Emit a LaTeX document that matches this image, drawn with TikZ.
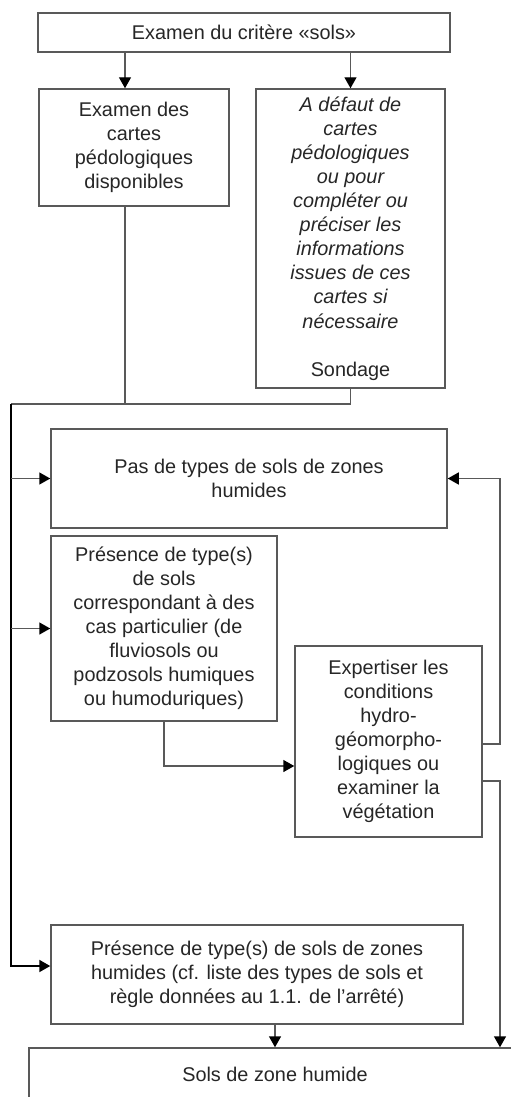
\documentclass[tikz,border=0pt]{standalone}
\usepackage{fontspec}
\setmainfont{Liberation Sans}
\usepackage{xcolor}
\usepackage{tikz}
\usetikzlibrary{arrows.meta,positioning}

\begin{document}
\begin{tikzpicture}[font=\fontsize{11.3}{13.7}\selectfont,
  box/.style={draw=black!65,line width=0.85pt,text=black!85,align=center,inner sep=0pt},
  link/.style={draw=black!65,line width=0.85pt},
  arr/.style={link,-{Triangle[length=2.2mm,width=2.4mm,color=black]}},
  trunk/.style={draw=black,line width=1.1pt,-{Triangle[length=2.2mm,width=2.4mm,color=black]}}]
\useasboundingbox (0,0) rectangle (10.22,-21.94);
\clip (0,0) rectangle (10.22,-21.94);
% boxes
\node[box,minimum width=8.24cm,minimum height=0.78cm] (crit) at (4.88,-0.65) {Examen du critère «sols»};
\node[box,minimum width=3.80cm,minimum height=2.34cm] (cartes) at (2.68,-2.95) {Examen des\\cartes\\pédologiques\\disponibles};
\node[box,minimum width=3.78cm,minimum height=5.98cm] (defaut) at (7.01,-4.77) {\itshape A défaut de\\\itshape cartes\\\itshape pédologiques\\\itshape ou pour\\\itshape compléter ou\\\itshape préciser les\\\itshape informations\\\itshape issues de ces\\\itshape cartes si\\\itshape nécessaire\\[13.7pt]Sondage};
\node[box,minimum width=7.92cm,minimum height=1.98cm] (pas) at (4.98,-9.57) {Pas de types de sols de zones\\humides};
\node[box,minimum width=4.52cm,minimum height=3.70cm] (cas) at (3.28,-12.57) {Présence de type(s)\\de sols\\correspondant à des\\cas particulier (de\\fluviosols ou\\podzosols humiques\\ou humoduriques)};
\node[box,minimum width=3.74cm,minimum height=3.82cm] (expert) at (7.77,-14.83) {Expertiser les\\conditions\\hydro-\\géomorpho-\\logiques ou\\examiner la\\végétation};
\node[box,minimum width=8.24cm,minimum height=1.98cm] (zh) at (5.14,-19.49) {Présence de type(s) de sols de zones\\humides (cf. liste des types de sols et\\règle données au 1.1. de l’arrêté)};
\node[box,minimum width=9.84cm,minimum height=1.04cm] (sols) at (5.50,-21.48) {Sols de zone humide};
% connectors
\coordinate (cx) at ([xshift=-1.8mm]cartes.north);
\coordinate (j) at (0.22,-8.08);
\coordinate (rx) at (10.0,0);
\coordinate (zin) at ([yshift=1.7mm]zh.west);
\draw[arr] (cx |- crit.south) -- (cx);
\draw[arr] (defaut.north |- crit.south) -- (defaut.north);
\draw[link] (cartes.south -| cx) -- (cx |- j);
\draw[link] (defaut.south) -- (defaut.south |- j) -- (j);
\draw[trunk] (j) |- (zin);
\foreach \n in {pas,cas}{
  \draw[arr] (j |- \n.west) -- (\n.west);
}
\draw[arr] (cas.south) |- ([yshift=-4.9mm]expert.west);
\draw[arr] ([yshift=-0.5mm]expert.east) -| (rx |- pas.east) -- (pas.east);
\draw[arr] ([yshift=-7.9mm]expert.east) -| (rx |- sols.north);
\draw[arr] (zh.south -| sols.north) -- (sols.north);
\end{tikzpicture}
\end{document}
